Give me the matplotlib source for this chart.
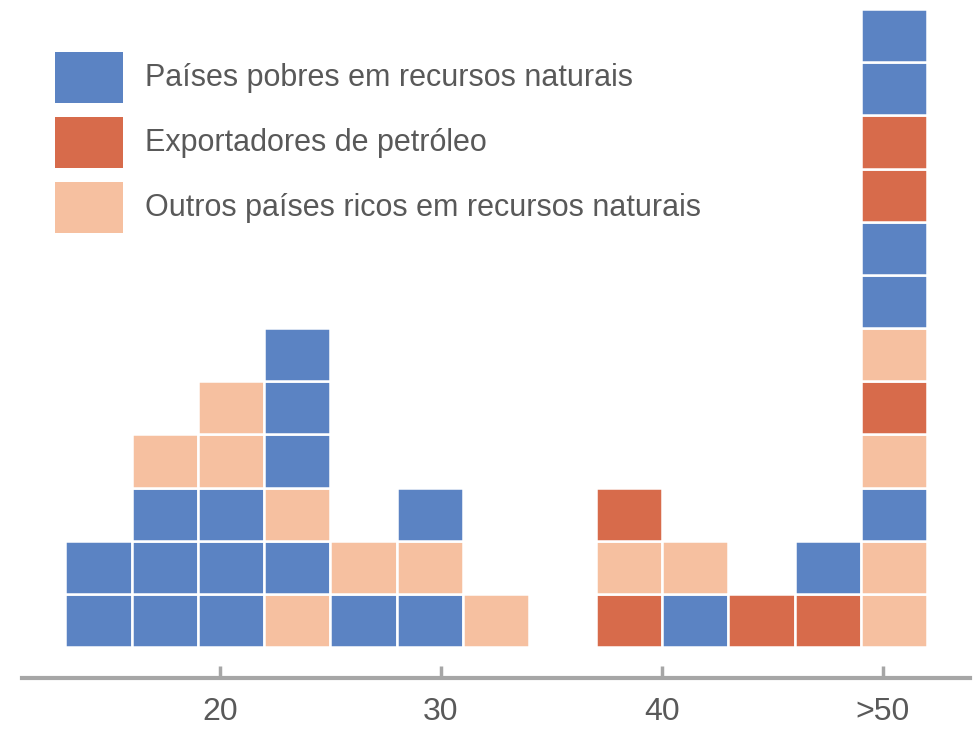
import matplotlib.pyplot as plt
from matplotlib.patches import Rectangle

# bin centres (3-unit wide bins) and stacked cells, bottom to top
# P = países pobres, O = exportadores de petróleo, R = outros ricos
centers = [14.5, 17.5, 20.5, 23.5, 26.5, 29.5, 32.5, 35.5, 38.5, 41.5, 44.5, 47.5, 50.5]
stacks = [
    "PP",
    "PPPR",
    "PPPRR",
    "RPRPPP",
    "PR",
    "PRP",
    "R",
    "",
    "ORO",
    "PR",
    "O",
    "OP",
    "RRPRORPPOOPP",
]
tick_pos = [20, 30, 40, 50]
tick_labels = ["20", "30", "40", ">50"]
legend_labels = [
    "Países pobres em recursos naturais",
    "Exportadores de petróleo",
    "Outros países ricos em recursos naturais",
]

colors = {"P": "#5B83C3", "O": "#D76B4B", "R": "#F6C0A0"}
text_color = "#595959"

fig = plt.figure(figsize=(9.74, 7.33), dpi=100)
ax = fig.add_axes([22 / 974, 55 / 733, 948 / 974, 678 / 733])

for c, s in zip(centers, stacks):
    for i, k in enumerate(s):
        ax.add_patch(Rectangle((c - 1.5, i), 3, 1, facecolor=colors[k],
                               edgecolor="white", linewidth=1.8))

ax.set_xlim(11.04, 53.94)
ax.set_ylim(-0.58, 12.17)
ax.set_yticks([])
for side in ["left", "right", "top"]:
    ax.spines[side].set_visible(False)
ax.spines["bottom"].set_color("#a6a6a6")
ax.spines["bottom"].set_linewidth(3)
ax.set_xticks(tick_pos)
ax.set_xticklabels(tick_labels, fontsize=23, color=text_color,
                   family=["Liberation Sans", "DejaVu Sans"])
ax.tick_params(axis="x", direction="in", length=9, width=2.5, color="#a6a6a6", pad=14)

# legend drawn as patches in figure pixels
leg_keys = ["P", "O", "R"]
for j, (k, lab) in enumerate(zip(leg_keys, legend_labels)):
    top = 52 + j * 65
    fig.patches.append(Rectangle((55 / 974, 1 - (top + 51) / 733), 68 / 974, 51 / 733,
                                 transform=fig.transFigure, facecolor=colors[k],
                                 edgecolor="none"))
    fig.text(145 / 974, 1 - (top + 26) / 733, lab, fontsize=22, color=text_color,
             va="center", ha="left", family=["Liberation Sans", "DejaVu Sans"])

fig.savefig("out.png", dpi=100)
